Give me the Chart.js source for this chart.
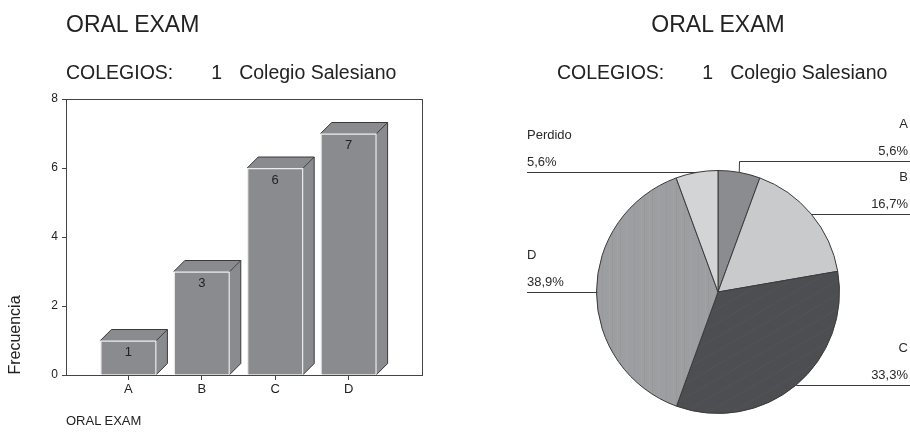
<!DOCTYPE html>
<html>
<head>
<meta charset="utf-8">
<title>ORAL EXAM</title>
<script src="https://cdn.jsdelivr.net/npm/chart.js@4"></script>
<style>
  body { margin: 0; width: 910px; height: 435px; background: #fff; position: relative; overflow: hidden;
         font-family: "Liberation Sans", Arial, sans-serif; color: #222; }
  canvas { position: absolute; top: 0; }
  .txt { position: absolute; line-height: 1; white-space: nowrap; }
  .title { font-size: 23px; top: 13px; }
  .sub { font-size: 19.5px; top: 63px; }
  .foot { font-size: 13px; top: 414px; left: 66px; }
</style>
</head>
<body>
<canvas id="barChart" width="455" height="435" style="left:0"></canvas>
<canvas id="pieChart" width="455" height="435" style="left:455px"></canvas>

<div class="txt title" style="left:66px">ORAL EXAM</div>
<div class="txt sub" style="left:66px"><span>COLEGIOS:</span><span style="margin-left:38px">1</span><span style="margin-left:17px">Colegio Salesiano</span></div>
<div class="txt title" style="left:718px; transform:translateX(-50%)">ORAL EXAM</div>
<div class="txt sub" style="left:557px"><span>COLEGIOS:</span><span style="margin-left:38px">1</span><span style="margin-left:17px">Colegio Salesiano</span></div>
<div class="txt foot">ORAL EXAM</div>

<script>
// bar chart data
const categories = ['A', 'B', 'C', 'D'];
const counts = [1, 3, 6, 7];
const yTicks = [0, 2, 4, 6, 8];

// pie chart data
const pieLabels = ['A', 'B', 'C', 'D', 'Perdido'];
const piePercents = [5.6, 16.7, 33.3, 38.9, 5.6];

const FONT = '"Liberation Sans", Arial, sans-serif';
const BAR_GRAY = '#8a8b8e';
const LINE = '#3a3a3a';

// faint streaks like the printed fills
function streakPattern(base, vertical) {
    const c = document.createElement('canvas');
    const g = c.getContext('2d');
    if (vertical) {
        c.width = 32; c.height = 8;
        g.fillStyle = base; g.fillRect(0, 0, 32, 8);
        [[2, 'rgba(255,255,255,0.05)'], [5, 'rgba(0,0,0,0.03)'], [11, 'rgba(255,255,255,0.04)'],
         [19, 'rgba(0,0,0,0.025)'], [26, 'rgba(255,255,255,0.05)'],
         [29, 'rgba(0,0,0,0.03)']].forEach(([x, col]) => { g.fillStyle = col; g.fillRect(x, 0, 1, 8); });
    } else {
        c.width = 24; c.height = 14;
        g.fillStyle = base; g.fillRect(0, 0, 24, 14);
        g.strokeStyle = 'rgba(255,255,255,0.035)'; g.lineWidth = 1;
        [-24, 0, 24].forEach(o => { g.beginPath(); g.moveTo(o, 14); g.lineTo(o + 24, 0); g.stroke(); });
    }
    return g.createPattern(c, 'repeat');
}

// box frame, 3D faces of the bars, value labels and y title
const bar3d = {
    id: 'bar3d',
    beforeDatasetsDraw(chart) {
        const {ctx, chartArea: a} = chart;
        ctx.save();
        ctx.strokeStyle = '#444';
        ctx.lineWidth = 1;
        ctx.strokeRect(Math.round(a.left) + 0.5, Math.round(a.top) + 0.5, Math.round(a.width), Math.round(a.height));
        ctx.restore();
    },
    afterDatasetsDraw(chart) {
        const ctx = chart.ctx;
        const d = 11;
        chart.getDatasetMeta(0).data.forEach((bar, i) => {
            const l = bar.x - bar.width / 2, r = bar.x + bar.width / 2, t = bar.y, b = bar.base;
            ctx.save();
            ctx.fillStyle = BAR_GRAY;
            ctx.beginPath();
            ctx.moveTo(l, t); ctx.lineTo(l + d, t - d); ctx.lineTo(r + d, t - d); ctx.lineTo(r, t);
            ctx.closePath(); ctx.fill();
            ctx.beginPath();
            ctx.moveTo(r, t); ctx.lineTo(r + d, t - d); ctx.lineTo(r + d, b - d); ctx.lineTo(r, b);
            ctx.closePath(); ctx.fill();
            // outline
            ctx.strokeStyle = LINE;
            ctx.lineWidth = 1;
            ctx.beginPath();
            ctx.moveTo(l, t); ctx.lineTo(l + d, t - d); ctx.lineTo(r + d, t - d); ctx.lineTo(r + d, b - d); ctx.lineTo(r, b);
            ctx.moveTo(r, t); ctx.lineTo(r + d, t - d);
            ctx.stroke();
            // value
            ctx.fillStyle = '#222';
            ctx.font = '13px ' + FONT;
            ctx.textAlign = 'center';
            ctx.textBaseline = 'middle';
            ctx.fillText(String(counts[i]), bar.x, t + 12);
            ctx.restore();
        });
    },
    afterDraw(chart) {
        const ctx = chart.ctx;
        ctx.save();
        ctx.translate(16, 335);
        ctx.rotate(-Math.PI / 2);
        ctx.fillStyle = '#222';
        ctx.font = '16px ' + FONT;
        ctx.textAlign = 'center';
        ctx.textBaseline = 'middle';
        ctx.fillText('Frecuencia', 0, 0);
        ctx.restore();
    }
};

new Chart(document.getElementById('barChart'), {
    type: 'bar',
    data: {
        datasets: [{
            data: counts.map((v, i) => ({x: i + 1, y: v})),
            backgroundColor: BAR_GRAY,
            borderColor: '#ececec',
            borderWidth: 1.5,
            borderSkipped: 'bottom',
            barThickness: 56
        }]
    },
    options: {
        responsive: false,
        animation: false,
        events: [],
        layout: {padding: {left: 0, top: 99, right: 33, bottom: 35}},
        plugins: {legend: {display: false}, tooltip: {enabled: false}},
        scales: {
            x: {
                type: 'linear',
                offset: false,
                min: 0.15,
                max: 5,
                afterBuildTicks: s => { s.ticks = categories.map((c, i) => ({value: i + 1})); },
                afterFit: s => { s.height = 25; },
                ticks: {callback: v => categories[v - 1], color: '#222', font: {size: 13, family: FONT}, padding: 2},
                grid: {offset: false, drawOnChartArea: false, tickLength: 5, color: '#444'},
                border: {display: false}
            },
            y: {
                min: 0,
                max: 8,
                afterBuildTicks: s => { s.ticks = yTicks.map(v => ({value: v})); },
                afterFit: s => { s.width = 66; },
                ticks: {color: '#222', font: {size: 12, family: FONT}, padding: 4},
                grid: {drawOnChartArea: false, tickLength: 4, color: '#444'},
                border: {display: false}
            }
        }
    },
    plugins: [bar3d]
});

// leader lines and labels around the pie
const pieCallouts = {
    id: 'pieCallouts',
    afterDatasetsDraw(chart) {
        const ctx = chart.ctx;
        const W = chart.width;
        ctx.save();
        ctx.strokeStyle = LINE;
        ctx.fillStyle = '#2a2a2a';
        ctx.lineWidth = 1;
        ctx.font = '13px ' + FONT;
        ctx.textBaseline = 'middle';
        chart.getDatasetMeta(0).data.forEach((arc, i) => {
            const mid = (arc.startAngle + arc.endAngle) / 2;
            const ex = arc.x + arc.outerRadius * Math.cos(mid);
            const ey = arc.y + arc.outerRadius * Math.sin(mid);
            const right = Math.cos(mid) > 0;
            let ly = ey;
            ctx.beginPath();
            ctx.moveTo(ex, ey);
            // slices near the top on the right get a short riser first
            if (right && Math.sin(mid) < -0.95) {
                ly = ey - 11;
            }
            ly = Math.round(ly) + 0.5;
            if (ly !== ey) ctx.lineTo(Math.round(ex) + 0.5, ly);
            ctx.moveTo(right ? Math.round(ex) + 0.5 : ex, ly);
            ctx.lineTo(right ? W : 72, ly);
            ctx.stroke();
            const pct = piePercents[i].toFixed(1).replace('.', ',') + '%';
            ctx.textAlign = right ? 'right' : 'left';
            const tx = right ? W - 2 : 72;
            ctx.fillText(pieLabels[i], tx, ly - 37);
            ctx.fillText(pct, tx, ly - 10);
        });
        ctx.restore();
    }
};

const pieCtx = document.getElementById('pieChart').getContext('2d');
new Chart(pieCtx, {
    type: 'pie',
    data: {
        labels: pieLabels,
        datasets: [{
            data: piePercents,
            backgroundColor: ['#8b8c8f', '#c9cacc', streakPattern('#4d4e51', false), streakPattern('#9d9ea1', true), '#d3d4d6'],
            borderColor: LINE,
            borderWidth: 1
        }]
    },
    options: {
        responsive: false,
        animation: false,
        events: [],
        layout: {padding: {left: 141, right: 70, top: 170, bottom: 21}},
        plugins: {legend: {display: false}, tooltip: {enabled: false}}
    },
    plugins: [pieCallouts]
});
</script>
</body>
</html>
